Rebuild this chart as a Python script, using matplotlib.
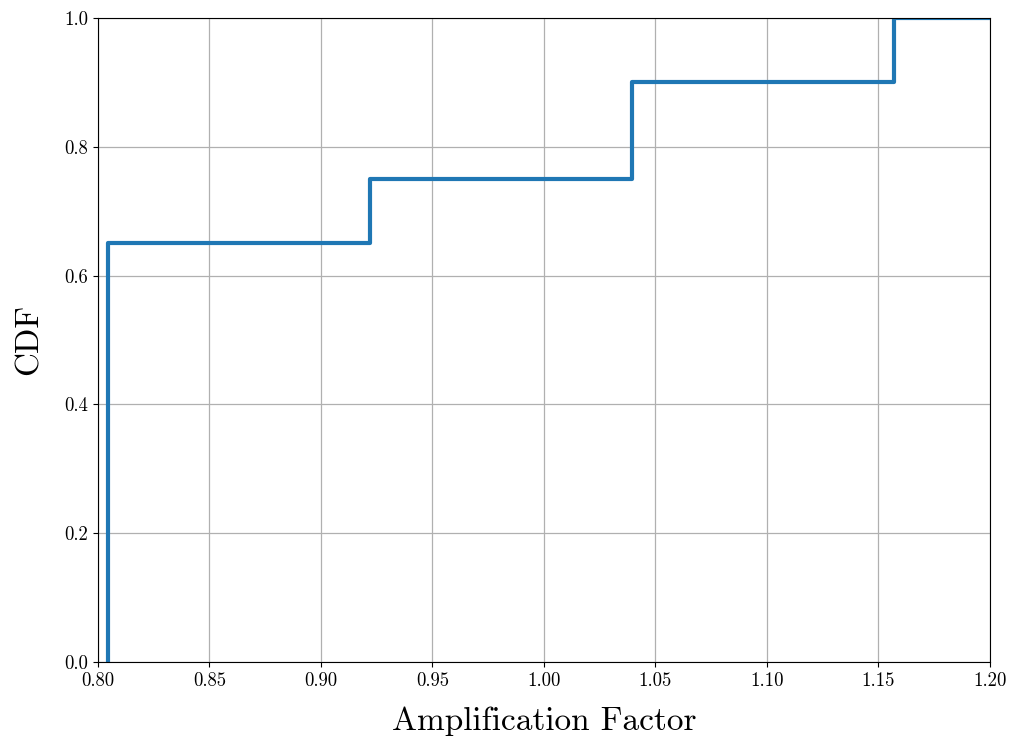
import matplotlib
matplotlib.use("Agg")
import matplotlib.pyplot as plt

plt.rcParams['font.family'] = 'cmr10'
plt.rcParams['mathtext.fontset'] = 'cm'
plt.rcParams['axes.formatter.use_mathtext'] = True

# step CDF points
amp = [0.8045, 0.8045, 0.922, 1.0395, 1.157, 1.2]
cdf = [0.0, 0.65, 0.75, 0.90, 1.0, 1.0]

fig = plt.figure(figsize=(10.14, 7.4), dpi=100)
ax = fig.add_axes([0.0966, 0.1054, 0.8797, 0.8703])
ax.step(amp, cdf, where='post', color='#1f77b4', linewidth=3)
ax.set_xlim(0.8, 1.2)
ax.set_ylim(0.0, 1.0)
ax.set_xticks([0.80, 0.85, 0.90, 0.95, 1.00, 1.05, 1.10, 1.15, 1.20])
ax.set_xticklabels(['0.80', '0.85', '0.90', '0.95', '1.00', '1.05', '1.10', '1.15', '1.20'])
ax.set_yticks([0.0, 0.2, 0.4, 0.6, 0.8, 1.0])
ax.set_yticklabels(['0.0', '0.2', '0.4', '0.6', '0.8', '1.0'])
ax.tick_params(labelsize=13.5)
ax.grid(True, color='#b0b0b0', linewidth=0.9)
ax.set_axisbelow(True)
ax.set_xlabel('Amplification Factor', fontsize=24, labelpad=12)
ax.set_ylabel('CDF', fontsize=24, labelpad=15)
fig.savefig('out.png', dpi=100)
